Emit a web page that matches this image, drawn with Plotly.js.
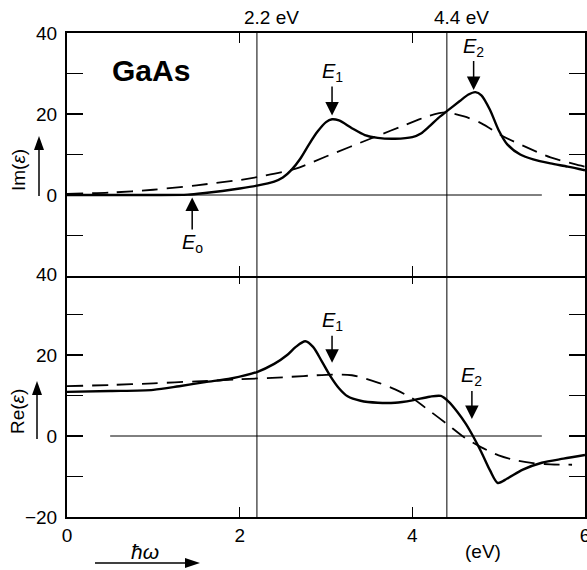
<!DOCTYPE html>
<html>
<head>
<meta charset="utf-8">
<script src="https://cdn.plot.ly/plotly-3.0.1.min.js"></script>
<style>html,body{margin:0;padding:0;background:#fff;}#chart{width:587px;height:570px;}</style>
</head>
<body>
<div id="chart"></div>
<script>
// ---- Data ----
// Top panel: Im(eps)
const imSolidX = [0, 0.5, 1.0, 1.4, 1.6, 1.8, 2.0, 2.2, 2.4, 2.5, 2.6, 2.7, 2.8, 2.9, 3.0, 3.07, 3.15, 3.3, 3.45, 3.6, 3.8, 4.0, 4.1, 4.2, 4.3, 4.4, 4.55, 4.65, 4.73, 4.8, 4.9, 5.0, 5.1, 5.25, 5.4, 5.6, 5.8, 6.0];
const imSolidY = [0, 0, 0, 0.1, 0.5, 1.0, 1.6, 2.3, 3.3, 4.3, 6.2, 8.9, 12.4, 15.6, 18, 18.7, 18.4, 16.5, 14.8, 14.1, 13.9, 14.3, 15.2, 17, 19, 20.7, 23.2, 24.8, 25.4, 24.6, 21, 16, 12.5, 10, 8.8, 7.8, 7.0, 6.1];
const imDashX = [0, 0.5, 1.0, 1.5, 2.0, 2.2, 2.5, 2.65, 3.0, 3.55, 4.0, 4.2, 4.38, 4.6, 4.8, 5.05, 5.3, 5.6, 5.87, 6.0];
const imDashY = [0.3, 0.6, 1.3, 2.4, 3.7, 4.4, 5.7, 6.5, 9.5, 14.2, 18, 19.6, 20.4, 19.4, 17.7, 14.5, 12, 9.3, 7.7, 7.0];
// Bottom panel: Re(eps)
const reSolidX = [0, 0.5, 1.0, 1.3, 1.6, 1.9, 2.2, 2.4, 2.55, 2.65, 2.76, 2.85, 2.95, 3.05, 3.15, 3.25, 3.4, 3.6, 3.8, 4.0, 4.2, 4.33, 4.42, 4.52, 4.62, 4.71, 4.8, 4.9, 4.99, 5.1, 5.28, 5.5, 5.75, 6.0];
const reSolidY = [10.9, 11.1, 11.4, 12.3, 13.3, 14.2, 15.8, 17.8, 20, 22, 23.4, 22, 18.5, 14.8, 11.8, 9.8, 8.7, 8.2, 8.2, 8.8, 9.7, 9.9, 8.5, 6, 3, -0.3, -4, -8.5, -11.6, -10.5, -8.3, -6.6, -5.6, -4.7];
const reDashX = [0, 0.5, 1.0, 1.5, 2.0, 2.5, 3.0, 3.3, 3.6, 3.8, 4.0, 4.2, 4.4, 4.6, 4.8, 5.0, 5.2, 5.4, 5.6, 5.85];
const reDashY = [12.3, 12.6, 13.0, 13.5, 14.0, 14.5, 15.1, 15.0, 13.2, 11.5, 9.3, 6.2, 3.0, -0.3, -2.8, -4.8, -6.0, -6.7, -7.0, -7.1];
// Zero reference lines
const zeroTopX = [0, 5.5];
const zeroBotX = [0.5, 5.5];
const zeroY = [0, 0];
// Marked energies
const markX = [2.2, 4.4];
const markLabels = ['2.2 eV', '4.4 eV'];
// Tick labels
const xTickVals = [0, 2, 4, 6];
const xTickText = ['0', '2', '4', '6'];
const yTopVals = [0, 20, 40];
const yTopText = ['0', '20', '40'];
const yTopMinor = [-20, -10, 10, 30];
const yBotVals = [-20, 0, 20, 40];
const yBotText = ['\u221220', '0', '20', '40'];
const yBotMinor = [-10, 10, 30];
// Critical points: [x, y, label, text offset]
const topPoints = [[3.07, 19.6, '<i>E</i><sub>1</sub>', -43], [4.71, 25.9, '<i>E</i><sub>2</sub>', -43]];
const e0Point = [1.45, -0.6, '<i>E</i><sub>o</sub>', 46];
const botPoints = [[3.07, 18.1, '<i>E</i><sub>1</sub>', -41], [4.69, 4.2, '<i>E</i><sub>2</sub>', -42]];

const FONT = 'Liberation Sans, Arial, Helvetica, sans-serif';
const solid = {color: '#000', width: 2.4, shape: 'spline', smoothing: 0.8};
const dashed = {color: '#000', width: 1.8, dash: '16px,9px', shape: 'spline', smoothing: 0.8};
const thin = {color: '#000', width: 1};
const L = 67, T = 33, W = 518, H = 484;
const ov = 1 / H;
const px = v => (v - L) / W;
const py = v => (T + H - v) / H;

const traces = [
  {x: zeroTopX, y: zeroY, xaxis: 'x2', yaxis: 'y2', mode: 'lines', line: thin},
  {x: imDashX, y: imDashY, xaxis: 'x2', yaxis: 'y2', mode: 'lines', line: dashed},
  {x: imSolidX, y: imSolidY, xaxis: 'x2', yaxis: 'y2', mode: 'lines', line: solid},
  {x: zeroBotX, y: zeroY, xaxis: 'x', yaxis: 'y', mode: 'lines', line: thin},
  {x: reDashX, y: reDashY, xaxis: 'x', yaxis: 'y', mode: 'lines', line: dashed},
  {x: reSolidX, y: reSolidY, xaxis: 'x', yaxis: 'y', mode: 'lines', line: solid}
];

const axCommon = {showgrid: false, zeroline: false, showline: true, linecolor: '#000', linewidth: 2, mirror: 'ticks', ticks: 'inside', tickcolor: '#000', tickwidth: 1.5, tickfont: {family: FONT, size: 19, color: '#000'}};
const minorY = vals => ({tickvals: vals, ticks: 'inside', ticklen: 16, tickcolor: '#000', tickwidth: 1.5, showgrid: false});

const annotations = [];
function arrowAnn(p, xr, yr) {
  return {x: p[0], y: p[1], xref: xr, yref: yr, text: p[2], showarrow: true, ax: 0, ay: p[3],
    arrowhead: 2, arrowsize: 1.8, arrowwidth: 1.5, arrowcolor: '#000', standoff: 0,
    font: {family: FONT, size: 20, color: '#000'}};
}
function label(x, y, text, size, angle) {
  return {x: x, y: y, xref: 'paper', yref: 'paper', xanchor: 'center', yanchor: 'middle', text: text, textangle: angle || 0, showarrow: false, font: {family: FONT, size: size, color: '#000'}};
}
topPoints.forEach(p => annotations.push(arrowAnn(p, 'x2', 'y2')));
annotations.push(arrowAnn(e0Point, 'x2', 'y2'));
botPoints.forEach(p => annotations.push(arrowAnn(p, 'x', 'y')));
markX.forEach((v, i) => annotations.push({x: v, y: 1, xref: 'x', yref: 'paper', xanchor: 'center', yanchor: 'bottom', xshift: 15, yshift: 3, text: markLabels[i], showarrow: false, font: {family: FONT, size: 19, color: '#000'}}));
annotations.push(label(px(151), py(71), '<b>GaAs</b>', 30));
annotations.push(label(px(18), py(170), 'Im(<i>ε</i>)', 19, -90));
annotations.push(label(px(17), py(412), 'Re(<i>ε</i>)', 19, -90));
annotations.push(label(px(145), py(551), '<i>ħω</i>', 21));
annotations.push(label(px(483), py(551), '(eV)', 19));

const shapes = markX.map(v => ({type: 'line', xref: 'x', yref: 'paper', x0: v, x1: v, y0: 0, y1: 1, line: {color: '#000', width: 1}}));
// Axis-direction arrows (line + filled head), in page pixels converted to paper units
function vArrow(x, yTail, yTip) {
  const base = yTip + 14;
  shapes.push({type: 'line', xref: 'paper', yref: 'paper', x0: px(x), x1: px(x), y0: py(yTail), y1: py(base - 1), line: {color: '#000', width: 1.5}});
  shapes.push({type: 'path', xref: 'paper', yref: 'paper', path: `M ${px(x)} ${py(yTip)} L ${px(x - 5)} ${py(base)} L ${px(x + 5)} ${py(base)} Z`, fillcolor: '#000', line: {width: 0}});
}
function hArrow(y, xTail, xTip) {
  const base = xTip - 15;
  shapes.push({type: 'line', xref: 'paper', yref: 'paper', x0: px(xTail), x1: px(base + 1), y0: py(y), y1: py(y), line: {color: '#000', width: 1.5}});
  shapes.push({type: 'path', xref: 'paper', yref: 'paper', path: `M ${px(xTip)} ${py(y)} L ${px(base)} ${py(y - 5)} L ${px(base)} ${py(y + 5)} Z`, fillcolor: '#000', line: {width: 0}});
}
vArrow(39, 196, 136);
vArrow(37, 439, 381);
hArrow(563, 95, 200);

const layout = {
  width: 587, height: 570,
  margin: {l: L, r: 2, t: T, b: 53},
  paper_bgcolor: '#fff', plot_bgcolor: '#fff',
  showlegend: false,
  xaxis: Object.assign({}, axCommon, {range: [0, 6], anchor: 'y', domain: [0, 1], tickvals: xTickVals, ticktext: xTickText, ticklen: 10, ticklabeloverflow: 'allow'}),
  xaxis2: Object.assign({}, axCommon, {range: [0, 6], anchor: 'y2', matches: 'x', tickvals: xTickVals, showticklabels: false, ticklen: 10}),
  yaxis: Object.assign({}, axCommon, {range: [-20, 40], domain: [0, 0.5 + ov], anchor: 'x', tickvals: yBotVals, ticktext: yBotText, ticklen: 16, ticklabelstandoff: 4, minor: minorY(yBotMinor)}),
  yaxis2: Object.assign({}, axCommon, {range: [-20, 40], domain: [0.5 - ov, 1], anchor: 'x2', tickvals: yTopVals, ticktext: yTopText, ticklen: 16, ticklabelstandoff: 4, minor: minorY(yTopMinor)}),
  annotations: annotations,
  shapes: shapes
};

Plotly.newPlot('chart', traces, layout, {displayModeBar: false, staticPlot: true});
</script>
</body>
</html>
